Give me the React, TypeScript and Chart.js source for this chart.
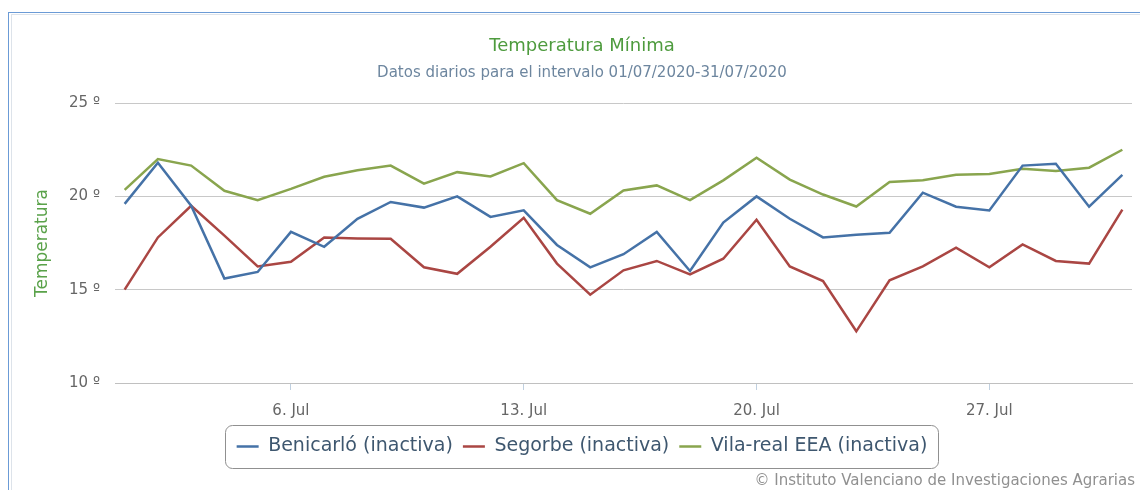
import React, { useEffect, useRef } from "react";
import { Chart, registerables } from "chart.js";

Chart.register(...registerables);

// ---- data ----
const days = [1, 2, 3, 4, 5, 6, 7, 8, 9, 10, 11, 12, 13, 14, 15, 16, 17, 18, 19, 20, 21, 22, 23, 24, 25, 26, 27, 28, 29, 30, 31];
const xTickDays = [6, 13, 20, 27];
const monthLabel = "Jul";
const yTickValues = [10, 15, 20, 25];
const seriesNames = ["Benicarló (inactiva)", "Segorbe (inactiva)", "Vila-real EEA (inactiva)"];
const seriesColors = ["#4572A7", "#AA4643", "#89A54E"];

const benicarlo = [19.6, 21.8, 19.5, 15.6, 15.95, 18.1, 17.3, 18.8, 19.7, 19.4, 20.0, 18.9, 19.25, 17.4, 16.2, 16.9, 18.1, 16.0, 18.6, 20.0, 18.8, 17.8, 17.95, 18.05, 20.2, 19.45, 19.25, 21.65, 21.75, 19.45, 21.15];
const segorbe = [15.0, 17.8, 19.5, 17.9, 16.25, 16.5, 17.8, 17.75, 17.73, 16.2, 15.85, 17.3, 18.85, 16.4, 14.73, 16.04, 16.54, 15.82, 16.66, 18.75, 16.25, 15.46, 12.77, 15.5, 16.25, 17.25, 16.2, 17.43, 16.54, 16.4, 19.29];
const vilareal = [20.35, 22.0, 21.65, 20.3, 19.8, 20.4, 21.05, 21.4, 21.65, 20.68, 21.3, 21.07, 21.78, 19.8, 19.07, 20.32, 20.59, 19.8, 20.86, 22.07, 20.9, 20.1, 19.46, 20.77, 20.86, 21.16, 21.2, 21.48, 21.36, 21.54, 22.5];

const titleText = "Temperatura Mínima";
const subtitleText = "Datos diarios para el intervalo 01/07/2020-31/07/2020";
const yTitleText = "Temperatura";
const creditsText = "© Instituto Valenciano de Investigaciones Agrarias";

const FONT = "'DejaVu Sans', Verdana, sans-serif";

const seriesValues = [benicarlo, segorbe, vilareal];

const decorPlugin = {
  id: "decor",
  beforeDraw(chart: any) {
    const { ctx, width, height } = chart;
    ctx.save();
    ctx.fillStyle = "#ffffff";
    ctx.fillRect(0, 0, width, height);
    // page frame
    ctx.fillStyle = "#6b9bd6";
    ctx.fillRect(8, 12, width - 8, 1);
    ctx.fillRect(8, 12, 1, height - 12);
    ctx.fillStyle = "#dde3ea";
    ctx.fillRect(11, 14, width - 11, 1);
    ctx.fillRect(11, 14, 1, height - 14);
    ctx.restore();
  },
  afterDraw(chart: any) {
    const { ctx, width } = chart;
    const boxes = chart.legend?.legendHitBoxes || [];
    if (boxes.length) {
      const minL = Math.min(...boxes.map((b: any) => b.left));
      const maxR = Math.max(...boxes.map((b: any) => b.left + b.width));
      const cy = boxes[0].top + boxes[0].height / 2;
      ctx.save();
      ctx.strokeStyle = "#909090";
      ctx.lineWidth = 1;
      ctx.beginPath();
      ctx.roundRect(Math.round(minL - 12) + 0.5, Math.round(cy - 21.5) + 0.5, Math.round(maxR - minL + 22), 43, 7);
      ctx.stroke();
      ctx.restore();
    }
    ctx.save();
    ctx.fillStyle = "#909090";
    ctx.font = `15px ${FONT}`;
    ctx.textAlign = "right";
    ctx.textBaseline = "middle";
    ctx.fillText(creditsText, width - 5, 481);
    ctx.restore();
  },
};

export default function App() {
  const ref = useRef<HTMLCanvasElement>(null);

  useEffect(() => {
    if (!ref.current) return;
    const datasets = seriesNames.map((name, i) => ({
      label: name,
      data: days.map((d, j) => ({ x: d, y: seriesValues[i][j] })),
      borderColor: seriesColors[i],
      backgroundColor: seriesColors[i],
      borderWidth: 2.5,
      pointRadius: 0,
      tension: 0,
      fill: false,
    }));

    const chart = new Chart(ref.current, {
      type: "line",
      data: { datasets },
      plugins: [decorPlugin],
      options: {
        responsive: false,
        animation: false,
        devicePixelRatio: 1,
        layout: { padding: { top: 14, left: 32, right: 8, bottom: 24 } },
        plugins: {
          tooltip: { enabled: false },
          title: {
            display: true,
            text: titleText,
            color: "#4e9b3e",
            font: { family: FONT, size: 18, weight: "normal" },
            padding: { top: 22, bottom: 0 },
          },
          subtitle: {
            display: true,
            text: subtitleText,
            color: "#6D869F",
            font: { family: FONT, size: 15, weight: "normal" },
            padding: { top: 6.5, bottom: 21 },
          },
          legend: {
            display: true,
            position: "bottom",
            labels: {
              usePointStyle: true,
              pointStyle: "line",
              pointStyleWidth: 22,
              color: "#3E576F",
              font: { family: FONT, size: 19 },
              padding: 10,
            },
          },
        },
        scales: {
          x: {
            type: "linear",
            min: 0.71,
            max: 31.29,
            afterBuildTicks: (s: any) => {
              s.ticks = xTickDays.map((v) => ({ value: v }));
            },
            afterFit: (s: any) => {
              s.height = 44;
            },
            ticks: {
              autoSkip: false,
              maxRotation: 0,
              color: "#666666",
              font: { family: FONT, size: 15 },
              padding: 12,
              callback: (v: any) => `${v}. ${monthLabel}`,
            },
            grid: {
              drawOnChartArea: false,
              drawTicks: true,
              tickLength: 7,
              color: "#C0D0E0",
            },
            border: { display: true, color: "#C0C0C0" },
          },
          y: {
            min: yTickValues[0],
            max: yTickValues[yTickValues.length - 1],
            afterBuildTicks: (s: any) => {
              s.ticks = yTickValues.map((v) => ({ value: v }));
            },
            afterFit: (s: any) => {
              s.width = 83;
            },
            ticks: {
              color: "#666666",
              font: { family: FONT, size: 15 },
              padding: 15,
              callback: (v: any) => `${v} º`,
            },
            grid: { color: "#C8C8C8", drawTicks: false, lineWidth: 1 },
            border: { display: false },
            title: {
              display: true,
              text: yTitleText,
              color: "#5aa24a",
              font: { family: FONT, size: 17 },
              padding: { top: 0, bottom: 0 },
            },
          },
        },
      },
    } as any);
    return () => chart.destroy();
  }, []);

  return (
    <div style={{ position: "fixed", left: 0, top: 0, width: 1140, height: 490, background: "#fff" }}>
      <canvas ref={ref} width={1140} height={490} style={{ display: "block", width: 1140, height: 490 }} />
    </div>
  );
}
